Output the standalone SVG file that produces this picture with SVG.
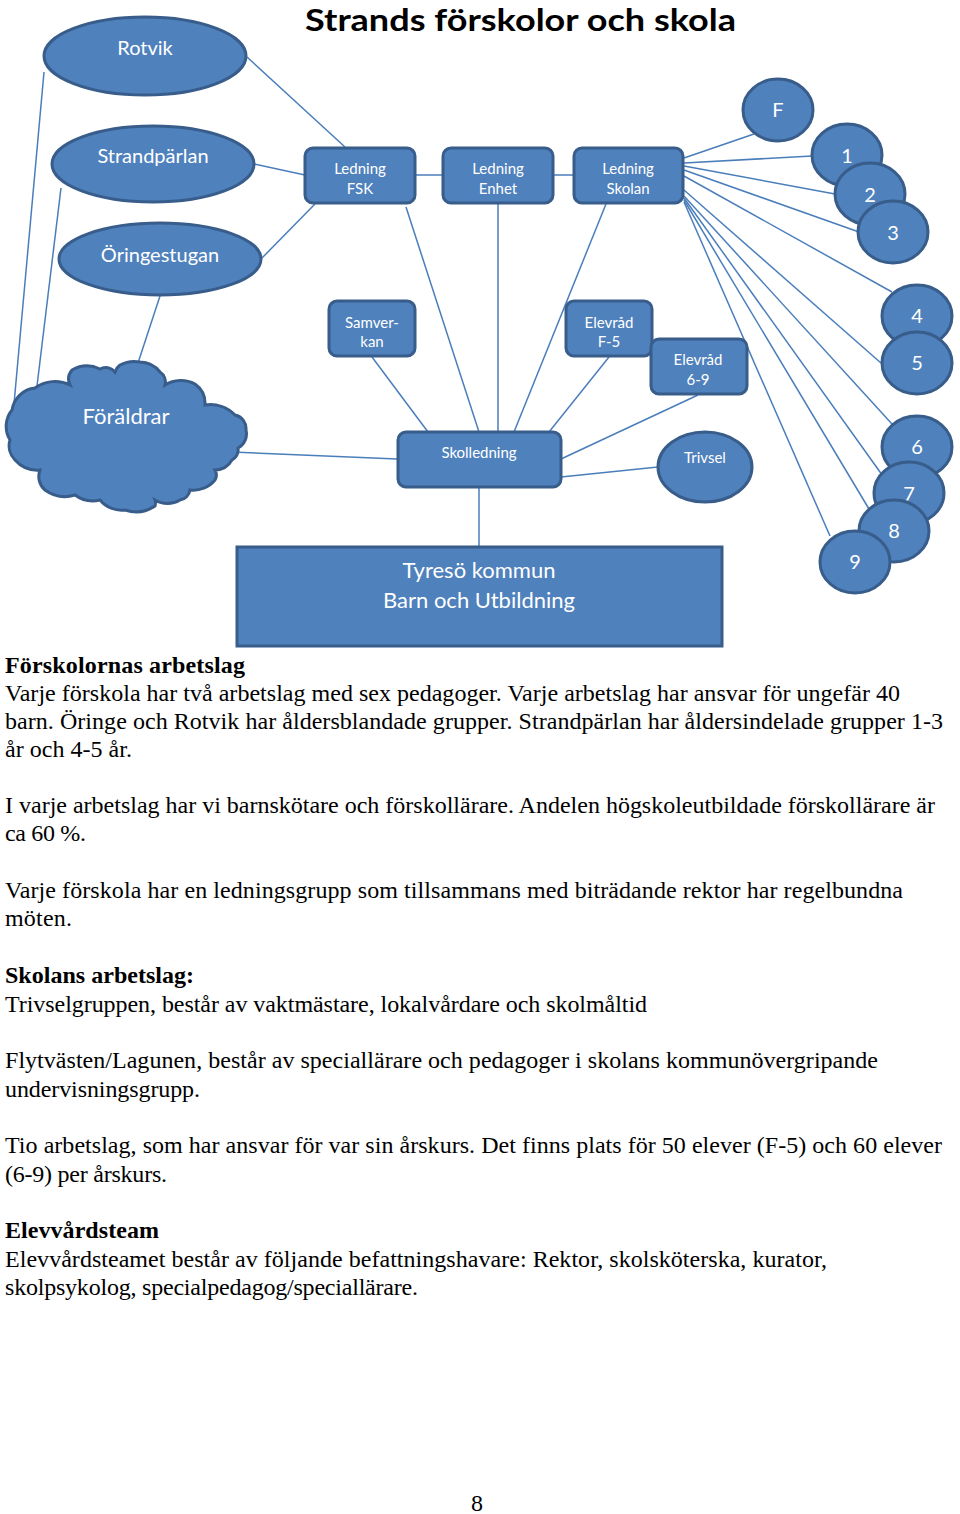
<svg xmlns="http://www.w3.org/2000/svg" width="960" height="1514" viewBox="0 0 960 1514">
<style>
.n{fill:#4F81BD;stroke:#385D8A;stroke-width:3}
.c{stroke:#4A7EBB;stroke-width:1.5;fill:none}
.t{fill:#FFFFFF;font-family:Lato,"Open Sans",sans-serif;text-anchor:middle}
.s{font-size:15px}
.m{font-size:20px}
.l{font-size:22px}
.b{fill:#000;font-family:"Liberation Serif",serif;font-size:24px}
.bb{font-weight:bold}
</style>
<rect width="960" height="1514" fill="#FFFFFF"/>
<text x="305" y="31" font-family="Lato,'Open Sans',sans-serif" font-weight="bold" font-size="31" fill="#000" textLength="431" lengthAdjust="spacingAndGlyphs">Strands förskolor och skola</text>
<g id="connectors" class="c">
<line x1="247" y1="57" x2="345" y2="147"/>
<line x1="254" y1="164" x2="305" y2="175"/>
<line x1="262" y1="258" x2="315" y2="204"/>
<line x1="415" y1="175" x2="443" y2="175"/>
<line x1="553" y1="175" x2="574" y2="175"/>
<line x1="44" y1="72" x2="14" y2="404"/>
<line x1="61" y1="188" x2="37" y2="386"/>
<line x1="160" y1="296" x2="137" y2="366"/>
<line x1="232" y1="452" x2="397" y2="459"/>
<line x1="372" y1="357" x2="428" y2="432"/>
<line x1="406" y1="207" x2="479" y2="432"/>
<line x1="498" y1="203" x2="498" y2="432"/>
<line x1="606" y1="204" x2="514" y2="432"/>
<line x1="609" y1="357" x2="549" y2="432"/>
<line x1="698" y1="395" x2="561" y2="459"/>
<line x1="658" y1="467" x2="561" y2="477"/>
<line x1="479" y1="487" x2="479" y2="547"/>
<line x1="684" y1="158" x2="754" y2="134"/>
<line x1="684" y1="163" x2="812" y2="156"/>
<line x1="684" y1="166" x2="835" y2="194"/>
<line x1="684" y1="170" x2="859" y2="232"/>
<line x1="684" y1="176" x2="892" y2="292"/>
<line x1="684" y1="190" x2="881" y2="363"/>
<line x1="684" y1="196" x2="892" y2="424"/>
<line x1="684" y1="198" x2="885" y2="479"/>
<line x1="684" y1="200" x2="869" y2="509"/>
<line x1="684" y1="202" x2="830" y2="536"/>
</g>
<g id="rotvik"><ellipse class="n" cx="145" cy="56" rx="101" ry="39"/><text class="t m" x="145" y="55">Rotvik</text></g>
<g id="strandparlan"><ellipse class="n" cx="153" cy="164" rx="101" ry="38"/><text class="t m" x="153" y="163">Strandpärlan</text></g>
<g id="oringestugan"><ellipse class="n" cx="160" cy="259" rx="101" ry="36"/><text class="t m" x="160" y="262">Öringestugan</text></g>
<g id="foraldrar">
<path class="n" d="M12,410 A26,26 0 0 1 35,388 A34,34 0 0 1 70,385 A14,14 0 0 1 72,370 A30,30 0 0 1 100,369 A12,12 0 0 1 115,372 A14,14 0 0 1 120,365 A30,30 0 0 1 140,362 A26,26 0 0 1 160,372 A12,12 0 0 1 165,385 A30,30 0 0 1 195,384 A24,24 0 0 1 205,405 A34,34 0 0 1 235,415 A14,14 0 0 1 246,430 A16,16 0 0 1 238,448 A12,12 0 0 1 232,460 A20,20 0 0 1 215,470 A10,10 0 0 1 215,480 A28,28 0 0 1 190,490 A12,12 0 0 1 180,500 A24,24 0 0 1 155,500 A10,10 0 0 1 155,506 A34,34 0 0 1 125,510 A28,28 0 0 1 100,500 A30,30 0 0 1 75,495 A34,34 0 0 1 45,490 A18,18 0 0 1 40,470 A30,30 0 0 1 15,460 A20,20 0 0 1 10,440 A26,26 0 0 1 12,410 Z"/>
<text class="t l" x="126" y="424">Föräldrar</text>
</g>
<g id="ledning-fsk"><rect class="n" x="305" y="148" width="110" height="55" rx="8"/><text class="t s" x="360" y="174">Ledning</text><text class="t s" x="360" y="194">FSK</text></g>
<g id="ledning-enhet"><rect class="n" x="443" y="148" width="110" height="55" rx="8"/><text class="t s" x="498" y="174">Ledning</text><text class="t s" x="498" y="194">Enhet</text></g>
<g id="ledning-skolan"><rect class="n" x="574" y="148" width="109" height="55" rx="8"/><text class="t s" x="628" y="174">Ledning</text><text class="t s" x="628" y="194">Skolan</text></g>
<g id="samverkan"><rect class="n" x="329" y="301" width="86" height="55" rx="8"/><text class="t s" x="372" y="328">Samver-</text><text class="t s" x="372" y="347">kan</text></g>
<g id="elevrad-f5"><rect class="n" x="566" y="301" width="86" height="55" rx="8"/><text class="t s" x="609" y="328">Elevråd</text><text class="t s" x="609" y="347">F-5</text></g>
<g id="elevrad-69"><rect class="n" x="651" y="339" width="96" height="55" rx="8"/><text class="t s" x="698" y="365">Elevråd</text><text class="t s" x="698" y="385">6-9</text></g>
<g id="skolledning"><rect class="n" x="398" y="432" width="163" height="55" rx="8"/><text class="t s" x="479" y="458">Skolledning</text></g>
<g id="trivsel"><ellipse class="n" cx="705" cy="467" rx="47" ry="35"/><text class="t s" x="705" y="463">Trivsel</text></g>
<g id="tyreso"><rect class="n" x="237" y="547" width="485" height="99"/><text class="t l" x="479" y="578">Tyresö kommun</text><text class="t l" x="479" y="608">Barn och Utbildning</text></g>
<g id="c-f"><ellipse class="n" cx="778" cy="110" rx="35" ry="31"/><text class="t m" x="778" y="117">F</text></g>
<g id="c-1"><ellipse class="n" cx="847" cy="155" rx="35" ry="31"/><text class="t m" x="847" y="163">1</text></g>
<g id="c-2"><ellipse class="n" cx="870" cy="194" rx="35" ry="31"/><text class="t m" x="870" y="202">2</text></g>
<g id="c-3"><ellipse class="n" cx="893" cy="232" rx="35" ry="31"/><text class="t m" x="893" y="240">3</text></g>
<g id="c-4"><ellipse class="n" cx="917" cy="316" rx="35" ry="31"/><text class="t m" x="917" y="323">4</text></g>
<g id="c-5"><ellipse class="n" cx="917" cy="363" rx="35" ry="31"/><text class="t m" x="917" y="370">5</text></g>
<g id="c-6"><ellipse class="n" cx="917" cy="447" rx="35" ry="31"/><text class="t m" x="917" y="454">6</text></g>
<g id="c-7"><ellipse class="n" cx="909" cy="493" rx="35" ry="31"/><text class="t m" x="909" y="501">7</text></g>
<g id="c-8"><ellipse class="n" cx="894" cy="531" rx="35" ry="31"/><text class="t m" x="894" y="538">8</text></g>
<g id="c-9"><ellipse class="n" cx="855" cy="562" rx="35" ry="31"/><text class="t m" x="855" y="569">9</text></g>
<g id="body">
<text class="b bb" x="5" y="673" textLength="240">Förskolornas arbetslag</text>
<text class="b" x="5" y="701" textLength="895">Varje förskola har två arbetslag med sex pedagoger. Varje arbetslag har ansvar för ungefär 40</text>
<text class="b" x="5" y="729" textLength="938">barn. Öringe och Rotvik har åldersblandade grupper. Strandpärlan har åldersindelade grupper 1-3</text>
<text class="b" x="5" y="757" textLength="127">år och 4-5 år.</text>
<text class="b" x="5" y="813" textLength="930">I varje arbetslag har vi barnskötare och förskollärare. Andelen högskoleutbildade förskollärare är</text>
<text class="b" x="5" y="841" textLength="81">ca 60 %.</text>
<text class="b" x="5" y="898" textLength="898">Varje förskola har en ledningsgrupp som tillsammans med biträdande rektor har regelbundna</text>
<text class="b" x="5" y="926" textLength="67">möten.</text>
<text class="b bb" x="5" y="983" textLength="189">Skolans arbetslag:</text>
<text class="b" x="5" y="1012" textLength="642">Trivselgruppen, består av vaktmästare, lokalvårdare och skolmåltid</text>
<text class="b" x="5" y="1068" textLength="873">Flytvästen/Lagunen, består av speciallärare och pedagoger i skolans kommunövergripande</text>
<text class="b" x="5" y="1097" textLength="195">undervisningsgrupp.</text>
<text class="b" x="5" y="1153" textLength="937">Tio arbetslag, som har ansvar för var sin årskurs. Det finns plats för 50 elever (F-5) och 60 elever</text>
<text class="b" x="5" y="1182" textLength="162">(6-9) per årskurs.</text>
<text class="b bb" x="5" y="1238" textLength="154">Elevvårdsteam</text>
<text class="b" x="5" y="1267" textLength="822">Elevvårdsteamet består av följande befattningshavare: Rektor, skolsköterska, kurator,</text>
<text class="b" x="5" y="1295" textLength="413">skolpsykolog, specialpedagog/speciallärare.</text>
<text class="b" x="477" y="1511" text-anchor="middle" font-size="22">8</text>
</g>
</svg>
